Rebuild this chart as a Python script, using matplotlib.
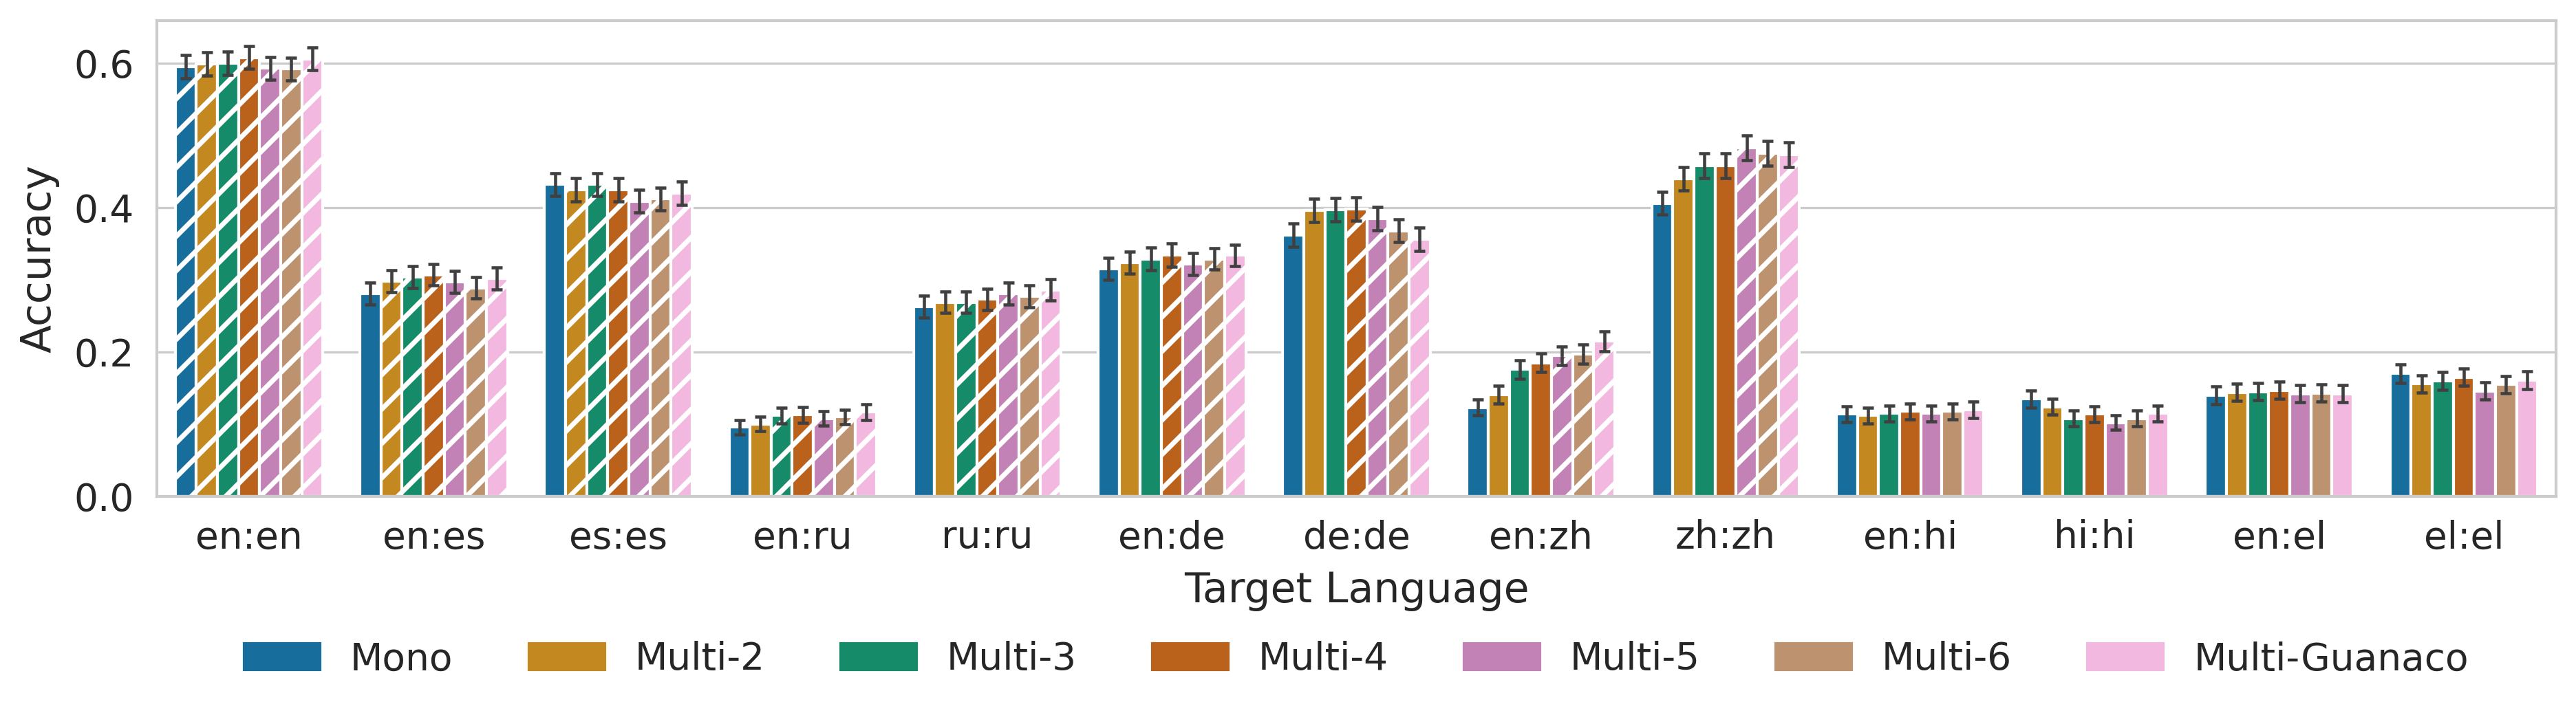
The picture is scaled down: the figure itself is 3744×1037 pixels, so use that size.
import numpy as np
import matplotlib
matplotlib.use("Agg")
import matplotlib.pyplot as plt
from matplotlib.patches import Patch
import seaborn as sns

targets = ['en:en', 'en:es', 'es:es', 'en:ru', 'ru:ru', 'en:de', 'de:de',
           'en:zh', 'zh:zh', 'en:hi', 'hi:hi', 'en:el', 'el:el']
models = ['Mono', 'Multi-2', 'Multi-3', 'Multi-4', 'Multi-5', 'Multi-6', 'Multi-Guanaco']

# accuracy per model, one value per target column
acc_mono = [0.595, 0.281, 0.432, 0.096, 0.263, 0.315, 0.362, 0.123, 0.406, 0.114, 0.135, 0.140, 0.170]
acc_multi2 = [0.599, 0.298, 0.425, 0.100, 0.269, 0.324, 0.396, 0.141, 0.440, 0.112, 0.124, 0.144, 0.156]
acc_multi3 = [0.600, 0.304, 0.432, 0.112, 0.269, 0.329, 0.397, 0.176, 0.458, 0.115, 0.108, 0.145, 0.160]
acc_multi4 = [0.608, 0.307, 0.425, 0.113, 0.273, 0.334, 0.398, 0.185, 0.458, 0.118, 0.114, 0.147, 0.165]
acc_multi5 = [0.593, 0.297, 0.409, 0.108, 0.281, 0.322, 0.385, 0.195, 0.483, 0.115, 0.102, 0.142, 0.146]
acc_multi6 = [0.592, 0.289, 0.412, 0.110, 0.277, 0.329, 0.368, 0.197, 0.475, 0.118, 0.108, 0.143, 0.155]
acc_guanaco = [0.606, 0.302, 0.420, 0.117, 0.286, 0.334, 0.356, 0.215, 0.473, 0.120, 0.115, 0.142, 0.161]

# half-width of the error bars
err_mono = [0.016, 0.015, 0.016, 0.010, 0.015, 0.015, 0.016, 0.011, 0.016, 0.011, 0.012, 0.012, 0.013]
err_multi2 = [0.016, 0.015, 0.016, 0.010, 0.015, 0.015, 0.016, 0.012, 0.016, 0.011, 0.011, 0.012, 0.012]
err_multi3 = [0.016, 0.015, 0.016, 0.011, 0.015, 0.016, 0.016, 0.013, 0.017, 0.011, 0.011, 0.012, 0.012]
err_multi4 = [0.016, 0.015, 0.016, 0.011, 0.015, 0.016, 0.016, 0.013, 0.017, 0.011, 0.011, 0.012, 0.012]
err_multi5 = [0.016, 0.015, 0.016, 0.010, 0.015, 0.015, 0.016, 0.013, 0.017, 0.011, 0.010, 0.012, 0.012]
err_multi6 = [0.016, 0.015, 0.016, 0.010, 0.015, 0.015, 0.016, 0.013, 0.017, 0.011, 0.011, 0.012, 0.012]
err_guanaco = [0.016, 0.015, 0.016, 0.011, 0.015, 0.015, 0.016, 0.014, 0.017, 0.011, 0.011, 0.012, 0.012]

# target languages seen in training (hatched bars)
trained = [['en'],
           ['en', 'es'],
           ['en', 'es', 'ru'],
           ['en', 'es', 'ru', 'de'],
           ['en', 'es', 'ru', 'de', 'zh'],
           ['en', 'es', 'ru', 'de', 'zh'],
           ['en', 'es', 'ru', 'de', 'zh']]

accs = [acc_mono, acc_multi2, acc_multi3, acc_multi4, acc_multi5, acc_multi6, acc_guanaco]
errs = [err_mono, err_multi2, err_multi3, err_multi4, err_multi5, err_multi6, err_guanaco]

sns.set_theme(style="whitegrid", font_scale=1.2)
plt.rcParams['font.family'] = ['DejaVu Sans']
plt.rcParams['hatch.linewidth'] = 1.7
colors = sns.color_palette("colorblind", 7, desat=0.75)

fig = plt.figure(figsize=(3745 / 300, 1037 / 300), dpi=300)
ax = fig.add_axes([228 / 3745, 1 - 722 / 1037, (3715 - 228) / 3745, (722 - 30) / 1037])

x = np.arange(len(targets))
n = len(models)
w = 0.8 / n
for j, m in enumerate(models):
    xs = x + (j - (n - 1) / 2) * w
    bars = ax.bar(xs, accs[j], width=w, color=colors[j], edgecolor='white',
                  linewidth=1.0, zorder=2)
    for k, b in enumerate(bars):
        if targets[k].split(':')[1] in trained[j]:
            b.set_hatch('//')
    ax.errorbar(xs, accs[j], yerr=errs[j], fmt='none', ecolor='#404040',
                elinewidth=1.1, capsize=1.9, capthick=1.1, zorder=3)

ax.set_xlim(-0.5, len(targets) - 0.5)
ax.set_ylim(0, 0.659)
ax.set_yticks([0.0, 0.2, 0.4, 0.6])
ax.set_xticks(x)
ax.set_xticklabels(targets)
ax.grid(axis='x', visible=False)
ax.grid(axis='y', color='#cccccc', linewidth=0.8)
ax.set_axisbelow(True)
for s in ax.spines.values():
    s.set_color('#cccccc')
    s.set_linewidth(1.0)
ax.tick_params(axis='both', labelsize=13.2, pad=8, length=0)
ax.set_ylabel('Accuracy', fontsize=14.4, labelpad=5)
ax.set_xlabel('Target Language', fontsize=14.4, labelpad=5)

handles = [Patch(facecolor=colors[j], edgecolor=colors[j], label=m) for j, m in enumerate(models)]
ax.legend(handles=handles, loc='center', bbox_to_anchor=(0.5, -0.343), ncol=7,
          frameon=False, fontsize=13.2)

fig.savefig('out.png', dpi=300)
